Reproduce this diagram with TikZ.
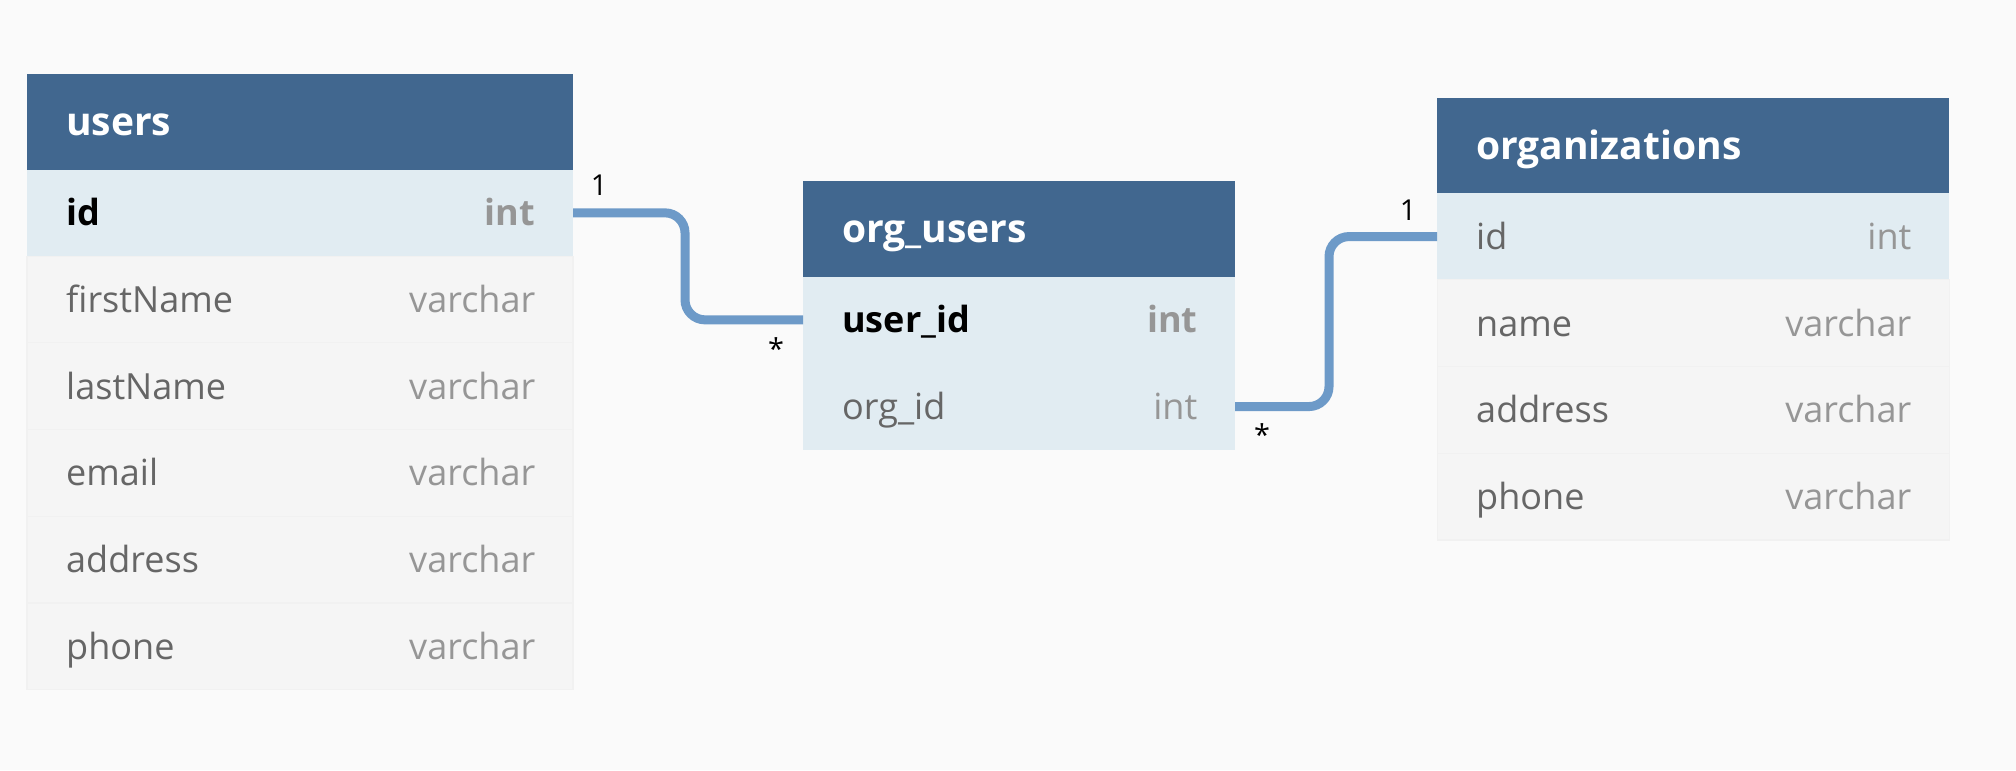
\documentclass[tikz,border=0pt]{standalone}
\usepackage{fontspec}
\setmainfont{Open Sans}
\usepackage{tikz}
\usetikzlibrary{positioning,calc}
\usepackage{xcolor}
\definecolor{hdrblue}{RGB}{65,103,143}
\definecolor{keyfill}{RGB}{225,236,242}
\definecolor{rowfill}{RGB}{245,245,245}
\definecolor{rowline}{RGB}{241,241,241}
\definecolor{bgcol}{RGB}{250,250,250}
\definecolor{namegray}{RGB}{102,102,102}
\definecolor{typegray}{RGB}{150,150,150}
\definecolor{relblue}{RGB}{109,154,200}
\newcommand{\rowfont}{\fontsize{10.25}{12}\selectfont}
\newcommand{\titlefont}{\fontsize{11.1}{13}\selectfont\bfseries}
\newcommand{\tblw}{5.46cm}
\tikzstyle{header}=[fill=hdrblue, minimum width=\tblw, minimum height=0.955cm, inner sep=0, outer sep=0, anchor=north west]
\tikzstyle{keyrow}=[fill=keyfill, minimum width=\tblw, minimum height=0.867cm, inner sep=0, outer sep=0]
\tikzstyle{plainrow}=[keyrow, fill=rowfill, draw=rowline, line width=0.3pt]
\tikzstyle{title}=[text=white, font=\titlefont, inner sep=0, text height=7.9pt, text depth=0pt]
\tikzstyle{fieldname}=[text=namegray, font=\rowfont, inner sep=0, text height=7.3pt, text depth=0pt]
\tikzstyle{fieldtype}=[fieldname, text=typegray]
\tikzstyle{pkname}=[fieldname, text=black, font=\rowfont\bfseries]
\tikzstyle{pktype}=[fieldtype, font=\rowfont\bfseries]
\tikzstyle{card}=[font=\fontsize{8.2}{9}\selectfont, inner sep=0, text=black]
\tikzstyle{rel}=[draw=relblue, line width=0.09cm, rounded corners=0.2cm]
\newcommand{\fieldrow}[7]{
	\node[#3, below=0pt of #2] (#1) {};
	\node[#4, right=0.385cm of #1.west] (#1n) {#6};
	\node[#5, left=0.37cm of #1.east] (#1t) {#7};
}

\begin{document}
\begin{tikzpicture}
	\fill[bgcol] (0,0) rectangle (20.16,7.70);
	% users
	\renewcommand{\tblw}{5.46cm}
	\node[header] (users) at (0.27,6.96) {};
	\node[title, right=0.385cm of users.west] (usersn) {users};
	\fieldrow{u1}{users}{keyrow}{pkname}{pktype}{id}{int}
	\fieldrow{u2}{u1}{plainrow}{fieldname}{fieldtype}{firstName}{varchar}
	\fieldrow{u3}{u2}{plainrow}{fieldname}{fieldtype}{lastName}{varchar}
	\fieldrow{u4}{u3}{plainrow}{fieldname}{fieldtype}{email}{varchar}
	\fieldrow{u5}{u4}{plainrow}{fieldname}{fieldtype}{address}{varchar}
	\fieldrow{u6}{u5}{plainrow}{fieldname}{fieldtype}{phone}{varchar}
	% org_users
	\renewcommand{\tblw}{4.32cm}
	\node[header] (orgusers) at (8.03,5.89) {};
	\node[title, right=0.385cm of orgusers.west] (orgusersn) {org\_users};
	\fieldrow{ou1}{orgusers}{keyrow}{pkname}{pktype}{user\_id}{int}
	\fieldrow{ou2}{ou1}{keyrow}{fieldname}{fieldtype}{org\_id}{int}
	% organizations
	\renewcommand{\tblw}{5.12cm}
	\node[header] (orgs) at (14.37,6.723) {};
	\node[title, right=0.385cm of orgs.west] (orgsn) {organizations};
	\fieldrow{o1}{orgs}{keyrow}{fieldname}{fieldtype}{id}{int}
	\fieldrow{o2}{o1}{plainrow}{fieldname}{fieldtype}{name}{varchar}
	\fieldrow{o3}{o2}{plainrow}{fieldname}{fieldtype}{address}{varchar}
	\fieldrow{o4}{o3}{plainrow}{fieldname}{fieldtype}{phone}{varchar}
	% relations
	\draw[rel] (u1.east) -- ++(1.12,0) |- (ou1.west);
	\draw[rel] (ou2.east) -- ++(0.94,0) |- (o1.west);
	\node[card] (c1) at ($(u1.east)+(0.26,0.275)$) {1};
	\node[card] (c2) at ($(ou1.west)+(-0.27,-0.285)$) {*};
	\node[card] (c3) at ($(ou2.east)+(0.27,-0.283)$) {*};
	\node[card] (c4) at ($(o1.west)+(-0.29,0.265)$) {1};
\end{tikzpicture}
\end{document}
